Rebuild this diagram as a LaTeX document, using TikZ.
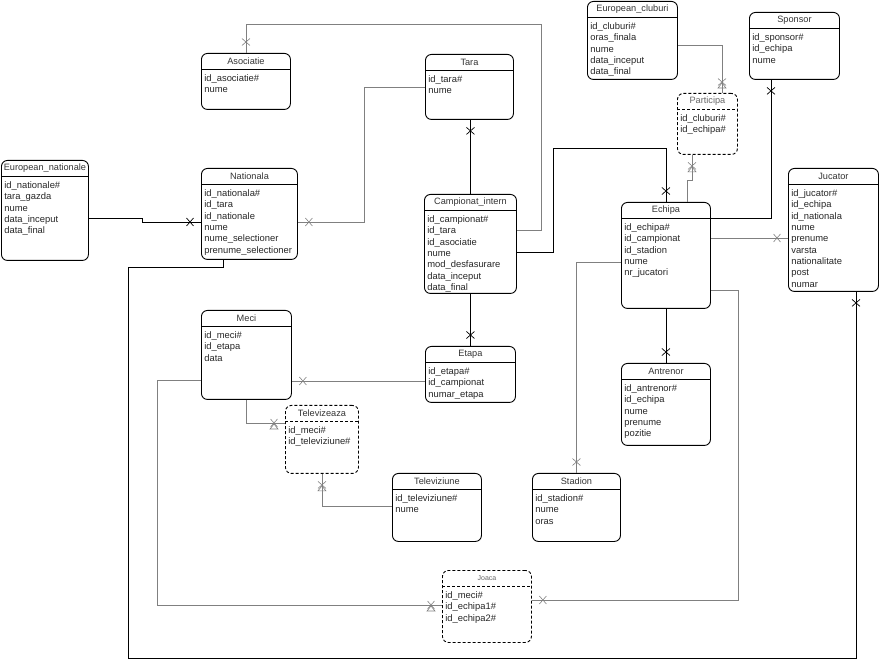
\documentclass[tikz,border=0pt]{standalone}
\usepackage{fontspec}
\setmainfont{Liberation Sans}
\usetikzlibrary{calc,decorations.markings}

% entity box: [style] name, x, y, width, height, title, attributes
\newcommand{\entity}[8][]{%
  \node[entbox,#1,minimum width=#5,minimum height=#6] (#2) at (#3,#4) {};
  \draw[entline,#1] ($(#2.north west)+(0,16)$) -- ($(#2.north east)+(0,16)$);
  \node[enttitle] at ($(#2.north)+(0,8)$) {#7};
  \node[entattr] at ($(#2.north west)+(3,21.5)$) {#8};
}

\begin{document}
\begin{tikzpicture}[x=1pt,y=-1pt,semithick]
  \tikzset{
    entbox/.style={draw=black,line width=0.9pt,rounded corners=6pt,anchor=north west,inner sep=0pt},
    entline/.style={draw=black,line width=0.9pt},
    weak/.style={dash pattern=on 3pt off 2pt},
    enttitle/.style={inner sep=0pt,text=black!80,font=\fontsize{9.2}{10}\selectfont},
    entattr/.style={anchor=north west,align=left,inner sep=0pt,text=black!85,font=\fontsize{9.4}{11.3}\selectfont},
    strong/.style={draw=black,line width=0.7pt},
    soft/.style={draw=black!50,line width=0.6pt},
    xend/.style={postaction={decorate,decoration={markings,
      mark=at position -11pt with {\draw[solid] (-3.5,-4)--(3.5,4) (-3.5,4)--(3.5,-4);}}}},
    xarcend/.style={postaction={decorate,decoration={markings,
      mark=at position -11pt with {\draw[solid] (-3.5,-4)--(3.5,4) (-3.5,4)--(3.5,-4);
        \pgftransformresetnontranslations \draw[solid] (-4,6)--(0,1)--(4,6)--cycle;}}}}
  }
  \useasboundingbox (0,0) rectangle (879,668);

  \entity{eurnat}{1}{160}{87}{100}{European\_nationale}
    {id\_nationale\#\\tara\_gazda\\nume\\data\_inceput\\data\_final}
  \entity{nat}{201}{168}{96}{91}{Nationala}
    {id\_nationala\#\\id\_tara\\id\_nationale\\nume\\nume\_selectioner\\prenume\_selectioner}
  \entity{asoc}{201}{53}{89}{56}{Asociatie}
    {id\_asociatie\#\\nume}
  \entity{tara}{425}{54}{88}{65}{Tara}
    {id\_tara\#\\nume}
  \entity{camp}{424}{194}{92}{99}{Campionat\_intern}
    {id\_campionat\#\\id\_tara\\id\_asociatie\\nume\\mod\_desfasurare\\data\_inceput\\data\_final}
  \entity{eurclub}{587}{1}{90}{78}{European\_cluburi}
    {id\_cluburi\#\\oras\_finala\\nume\\data\_inceput\\data\_final}
  \entity{spons}{749}{12}{90}{67}{Sponsor}
    {id\_sponsor\#\\id\_echipa\\nume}
  \entity[weak]{part}{677}{93}{60}{61}{\color{black!60}Participa}
    {id\_cluburi\#\\id\_echipa\#}
  \entity{echipa}{621}{202}{89}{106}{Echipa}
    {id\_echipa\#\\id\_campionat\\id\_stadion\\nume\\nr\_jucatori}
  \entity{jucator}{788}{168}{90}{123}{Jucator}
    {id\_jucator\#\\id\_echipa\\id\_nationala\\nume\\prenume\\varsta\\nationalitate\\post\\numar}
  \entity{meci}{201}{310}{90}{89}{Meci}
    {id\_meci\#\\id\_etapa\\data}
  \entity{etapa}{425}{346}{90}{56}{Etapa}
    {id\_etapa\#\\id\_campionat\\numar\_etapa}
  \entity[weak]{tvz}{285}{405}{73}{68}{Televizeaza}
    {id\_meci\#\\id\_televiziune\#}
  \entity{antrenor}{621}{363}{89}{82}{Antrenor}
    {id\_antrenor\#\\id\_echipa\\nume\\prenume\\pozitie}
  \entity{tv}{392}{473}{89}{68}{Televiziune}
    {id\_televiziune\#\\nume}
  \entity{stadion}{532}{473}{88}{68}{Stadion}
    {id\_stadion\#\\nume\\oras}
  \entity[weak]{joaca}{442}{570}{89}{72}{\fontsize{7}{8}\selectfont\color{black!60}Joaca}
    {id\_meci\#\\id\_echipa1\#\\id\_echipa2\#}

  % relations
  \draw[strong,xend] (eurnat.east |- 0,218) -- (142,218) -- (142,222) -- (nat.west |- 0,222);
  \draw[soft,xend] (tara.west |- 0,87) -- (364,87) -- (364,222) -- (nat.east |- 0,222);
  \draw[soft,xend] (camp.east |- 0,230) -- (541,230) -- (541,24) -| (asoc.north);
  \draw[strong,xend] (camp.north) -- (camp.north |- tara.south);
  \draw[strong,xend] (camp.south) -- (camp.south |- etapa.north);
  \draw[strong,xend] (camp.east |- 0,252) -- (553,252) -- (553,148) -| (echipa.north);
  \draw[soft,xarcend] (eurclub.east |- 0,45) -| (part.north -| 722,0);
  \draw[soft,xarcend] (echipa.north -| 687,0) -- (687,180) -- (692,180) -- (part.south -| 692,0);
  \draw[strong,xend] (echipa.east |- 0,218) -| (spons.south -| 771,0);
  \draw[soft,xend] (echipa.east |- 0,238) -- (jucator.west |- 0,238);
  \draw[strong,xend] (echipa.south) -- (antrenor.north);
  \draw[soft,xend] (echipa.west |- 0,262) -| (stadion.north);
  \draw[soft,xend] (echipa.east |- 0,290) -- (738,290) |- (joaca.east |- 0,600);
  \draw[soft,xend] (etapa.west |- 0,381) -- (meci.east |- 0,381);
  \draw[soft,xarcend] (meci.south) |- (tvz.west |- 0,423);
  \draw[soft,xarcend] (tv.west |- 0,506) -| (tvz.south);
  \draw[soft,xarcend] (meci.west |- 0,380) -- (157,380) |- (joaca.west |- 0,605);
  \draw[strong,xend] (nat.south -| 223,0) -- (223,267) -- (128,267) -- (128,658) -- (856,658) -- (jucator.south -| 856,0);
\end{tikzpicture}
\end{document}
